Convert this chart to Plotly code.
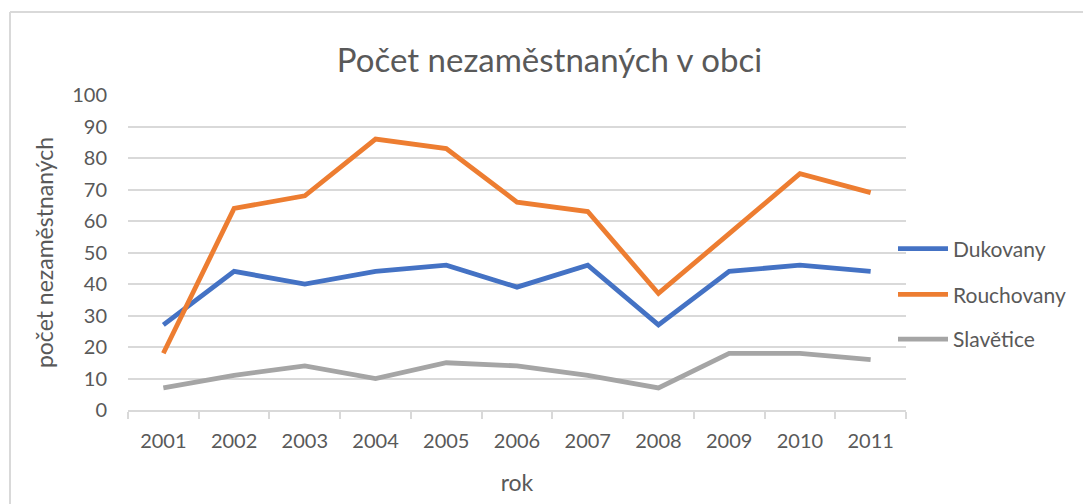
import plotly.graph_objects as go

years = ["2001", "2002", "2003", "2004", "2005", "2006", "2007", "2008", "2009", "2010", "2011"]
dukovany = [27, 44, 40, 44, 46, 39, 46, 27, 44, 46, 44]
rouchovany = [18, 64, 68, 86, 83, 66, 63, 37, 56, 75, 69]
slavetice = [7, 11, 14, 10, 15, 14, 11, 7, 18, 18, 16]

series = [("Dukovany", dukovany, "#4472C4", "legend", 250),
          ("Rouchovany", rouchovany, "#ED7D31", "legend2", 296),
          ("Slavětice", slavetice, "#A5A5A5", "legend3", 341)]

FONT = "Lato, 'Open Sans', sans-serif"
TXT = "#595959"

# page has an 8px body margin; work in page pixels and convert
OFF = 8
W, H = 1091 - OFF, 504 - OFF
L, R, T, B = 128 - OFF, 185, 95 - OFF, 92
pw, ph = W - L - R, H - T - B

def px(xp):
    return (xp - OFF - L) / pw

def py(yp):
    return (H - B - (yp - OFF)) / ph

fig = go.Figure()
for name, vals, col, lg, _ in series:
    fig.add_trace(go.Scatter(x=years, y=vals, name=name, mode="lines", legend=lg,
                             line=dict(color=col, width=4.8)))

legend_common = dict(xanchor="left", yanchor="middle", font=dict(size=21, color=TXT, family=FONT),
                     itemwidth=50, bgcolor="rgba(0,0,0,0)")
legends = {}
for name, vals, col, lg, ypage in series:
    legends[lg] = dict(x=px(893), y=py(ypage), **legend_common)

fig.update_layout(
    width=W, height=H,
    margin=dict(l=L, r=R, t=T, b=B),
    paper_bgcolor="white", plot_bgcolor="white",
    font=dict(family=FONT, color=TXT, size=20),
    title=dict(text="Počet nezaměstnaných v obci", x=0.5, xanchor="center",
               y=1 - (60 - OFF) / H, yanchor="middle",
               font=dict(size=33, color=TXT, family=FONT)),
    xaxis=dict(type="category", tickson="boundaries", ticks="outside", ticklen=7,
               tickcolor="#d9d9d9", tickwidth=1.5, showline=True, linecolor="#d9d9d9", linewidth=1.5,
               showgrid=False, tickfont=dict(size=20, color=TXT), ticklabelstandoff=12,
               title=dict(text="rok", font=dict(size=23, color=TXT), standoff=24),
               range=[-0.5, 10.5]),
    yaxis=dict(range=[0, 100], dtick=10, showgrid=True, gridcolor="#d9d9d9", gridwidth=1.5,
               zeroline=False, showline=False, ticks="", tickfont=dict(size=20, color=TXT),
               ticklabelstandoff=20,
               title=dict(text="počet nezaměstnaných", font=dict(size=23, color=TXT), standoff=12)),
    showlegend=True,
    **legends,
)

# outer chart frame (Excel-like border)
fig.add_shape(type="line", xref="paper", yref="paper", x0=px(10), x1=px(1100), y0=py(11.5), y1=py(11.5),
              line=dict(color="#d9d9d9", width=2))
fig.add_shape(type="line", xref="paper", yref="paper", x0=px(10), x1=px(10), y0=py(11.5), y1=py(520),
              line=dict(color="#d9d9d9", width=2))

fig.write_html("out.html")
